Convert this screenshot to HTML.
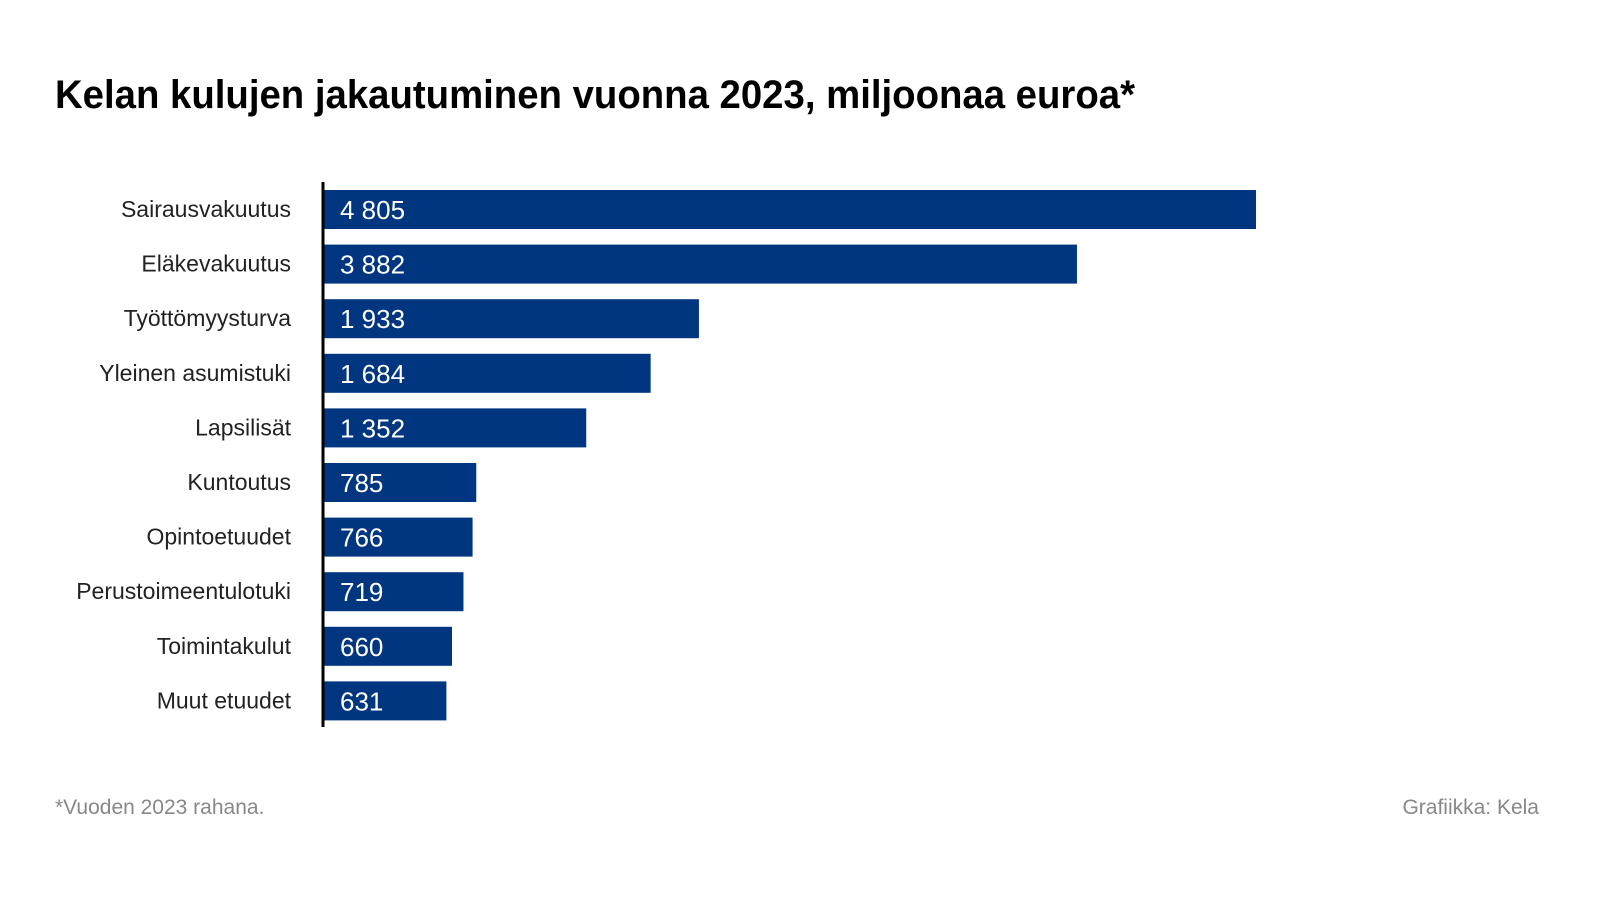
<!DOCTYPE html>
<html><head><meta charset="utf-8"><style>
body{margin:0;background:#fff;font-family:"Liberation Sans",sans-serif}
svg{display:block}
</style></head><body>
<svg width="1600" height="900" viewBox="0 0 1600 900">
<text x="55" y="108" font-size="40" font-weight="bold" fill="#000" textLength="1080" lengthAdjust="spacingAndGlyphs">Kelan kulujen jakautuminen vuonna 2023, miljoonaa euroa*</text>
<g id="bars"></g>
<line x1="323" y1="182" x2="323" y2="727" stroke="#000" stroke-width="3"/>
<text x="55" y="814" font-size="21" fill="#888">*Vuoden 2023 rahana.</text>
<text x="1539" y="814" font-size="21" fill="#888" text-anchor="end">Grafiikka: Kela</text>
</svg>
<script>
const categories=["Sairausvakuutus","Eläkevakuutus","Työttömyysturva","Yleinen asumistuki","Lapsilisät","Kuntoutus","Opintoetuudet","Perustoimeentulotuki","Toimintakulut","Muut etuudet"];
const values=[4805,3882,1933,1684,1352,785,766,719,660,631];
const valueLabels=["4 805","3 882","1 933","1 684","1 352","785","766","719","660","631"];
const NS="http://www.w3.org/2000/svg";
const x0=324,x1=1256,maxV=4805;
function xScale(v){return x0+(v/maxV)*(x1-x0);}
function yScale(i){return 190+i*54.6;}
const g=document.getElementById('bars');
categories.forEach((c,i)=>{
  const y=yScale(i);
  const r=document.createElementNS(NS,'rect');
  
  
  r.setAttribute('x',x0);r.setAttribute('y',y);
  r.setAttribute('width',xScale(values[i])-x0);r.setAttribute('height',39);
  r.setAttribute('fill','#00367f');
  g.appendChild(r);
  const t=document.createElementNS(NS,'text');
  
  
  t.setAttribute('x',291);t.setAttribute('y',y+27);
  t.setAttribute('text-anchor','end');t.setAttribute('font-size','23');t.setAttribute('fill','#222');
  t.textContent=c;g.appendChild(t);
  const v=document.createElementNS(NS,'text');
  
  
  v.setAttribute('x',340);v.setAttribute('y',y+29);
  v.setAttribute('font-size','26');v.setAttribute('fill','#fff');
  v.textContent=valueLabels[i];g.appendChild(v);
});
</script>
</body></html>
